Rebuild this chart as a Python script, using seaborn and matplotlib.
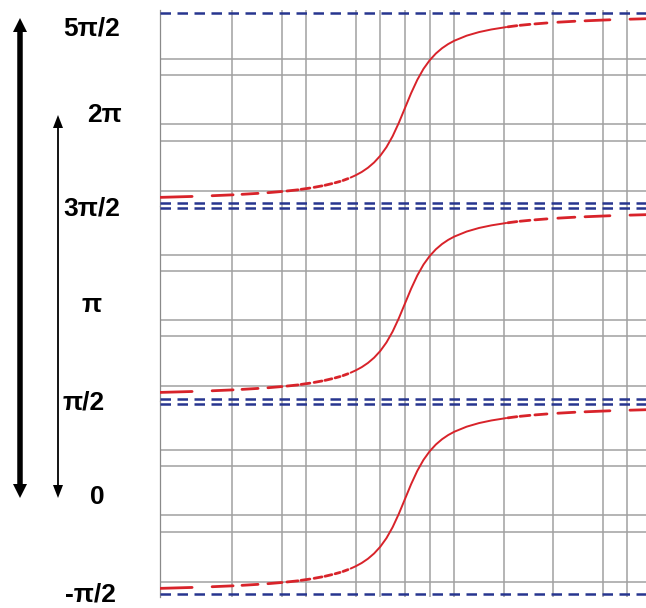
import numpy as np
import pandas as pd
import matplotlib as mpl; mpl.use("Agg")
import matplotlib.pyplot as plt
import seaborn as sns

# ---- curve (x in grid units, y in radians) ----
MID_X = [-2.2, -2.0, -1.75, -1.5, -1.25, -1.0, -0.75, -0.5, -0.25, 0.0,
         0.25, 0.5, 0.75, 1.0, 1.25, 1.5, 1.75, 2.0, 2.5, 3.0, 3.5, 4.1]
MID_Y = [-1.144, -1.107, -1.052, -0.983, -0.896, -0.785, -0.644, -0.464, -0.245, 0.0,
         0.245, 0.464, 0.644, 0.785, 0.896, 0.983, 1.052, 1.107, 1.190, 1.249, 1.292, 1.331]
# tails are drawn as separate dash pieces (start, end)
LEFT_X = [(-10.0, -8.62), (-7.81, -6.96), (-6.60, -5.95), (-5.55, -4.98), (-4.78, -4.33),
          (-4.21, -3.85), (-3.68, -3.36), (-3.24, -2.96), (-2.83, -2.63), (-2.51, -2.31)]
LEFT_Y = [(-1.471, -1.455), (-1.443, -1.428), (-1.420, -1.404), (-1.393, -1.373), (-1.365, -1.346),
          (-1.338, -1.317), (-1.305, -1.281), (-1.271, -1.244), (-1.230, -1.208), (-1.192, -1.162)]
RIGHT_X = [(4.17, 4.53), (4.66, 5.06), (5.26, 5.75), (6.19, 6.88), (7.29, 8.30), (9.11, 9.80)]
RIGHT_Y = [(1.335, 1.354), (1.360, 1.376), (1.383, 1.399), (1.411, 1.427), (1.434, 1.451), (1.461, 1.469)]

GRID_X = [-7, -5, -4, -2, -1, 0, 1, 2, 4, 6, 8, 9]
GRID_Y = [-1.36, -0.54, -0.27, 0.54, 0.80]
ASYMPT = [-np.pi / 2, np.pi / 2]

LABELS = ["5π/2", "2π", "3π/2", "π", "π/2", "0", "-π/2"]

RED = "#d8232a"
NAVY = "#27358f"

sns.set_theme(style="white")
plt.rcParams["font.family"] = ["Liberation Sans", "DejaVu Sans"]

W, H = 646, 608
fig = plt.figure(figsize=(W / 100, H / 100), dpi=100)

def px_axes(left, top, right, bottom):
    return fig.add_axes([left / W, 1 - bottom / H, (right - left) / W, (bottom - top) / H])

# tail dashes as pieces for seaborn (units=piece)
rows = []
for k, ((x0, x1), (y0, y1)) in enumerate(zip(LEFT_X + RIGHT_X, LEFT_Y + RIGHT_Y)):
    rows += [(x0, y0, k), (x1, y1, k)]
tails = pd.DataFrame(rows, columns=["x", "y", "piece"])
mid = pd.DataFrame({"x": MID_X, "y": MID_Y})

panels = [(10, 206), (206, 401), (401, 597)]
for top, bot in panels:
    ax = px_axes(160, top, 646, bot)
    ax.set_xlim(-9.92, 9.76)
    ax.set_ylim(-1.612, 1.612)
    ax.set_xticks(GRID_X); ax.set_yticks(GRID_Y)
    ax.set_xticklabels([]); ax.set_yticklabels([])
    ax.tick_params(length=0)
    ax.grid(True, color="#a0a0a0", lw=1.1)
    for s in ("top", "right", "bottom"): ax.spines[s].set_visible(False)
    ax.spines["left"].set_color("#8a8a8a"); ax.spines["left"].set_linewidth(0.9)
    for a in ASYMPT:
        ax.axhline(a, color=NAVY, lw=1.8, ls=(0, (4.2, 2.6)), zorder=3)
    sns.lineplot(data=mid, x="x", y="y", color=RED, lw=1.4, sort=False,
                 estimator=None, ax=ax, zorder=4)
    sns.lineplot(data=tails, x="x", y="y", units="piece", color=RED, lw=2.0,
                 estimator=None, sort=False, ax=ax, zorder=4)
    ax.set_xlabel(""); ax.set_ylabel("")

# left side: arrows and level labels (pixel coordinates)
ov = fig.add_axes([0, 0, 1, 1])
ov.set_xlim(0, W); ov.set_ylim(H, 0); ov.axis("off")
for x, ymid, y_top, y_bot, w, hw, hl in [(20, 258, 18, 498, 5.5, 14, 14),
                                           (58, 306, 115, 498, 1.8, 10, 13)]:
    ov.arrow(x, ymid, 0, y_top - ymid, width=w, head_width=hw, head_length=hl,
             length_includes_head=True, fc="black", ec="none")
    ov.arrow(x, ymid, 0, y_bot - ymid, width=w, head_width=hw, head_length=hl,
             length_includes_head=True, fc="black", ec="none")

LAB_XY = [(92, 28), (105, 115), (92, 208), (92, 305), (84, 403), (97, 497), (90, 594)]
for lab, (x, y) in zip(LABELS, LAB_XY):
    ov.text(x, y, lab, ha="center", va="center", fontsize=19, fontweight="bold", color="black")

fig.savefig("out.png", dpi=100)
